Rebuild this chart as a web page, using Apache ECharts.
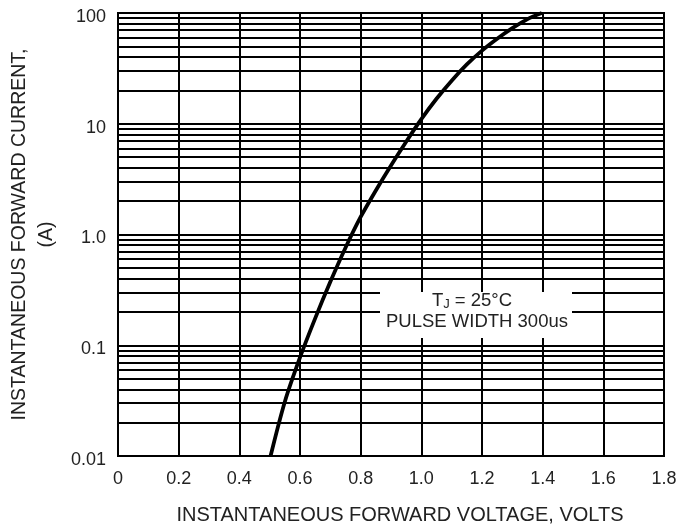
<!DOCTYPE html>
<html><head><meta charset="utf-8">
<script src="https://cdn.jsdelivr.net/npm/echarts@6/dist/echarts.min.js"></script>
<style>html,body{margin:0;padding:0;background:#fff}#c{width:693px;height:530px}</style>
</head><body><div id="c"></div>
<script>
var voltage = [0.503, 0.55, 0.60, 0.65, 0.70, 0.75, 0.80, 0.85, 0.90, 0.95, 1.00, 1.05, 1.10, 1.15, 1.20, 1.25, 1.30, 1.35, 1.397];
var current = [0.01, 0.0309, 0.0776, 0.175, 0.374, 0.76, 1.44, 2.5, 4.2, 6.88, 11.0, 16.8, 24.5, 34.3, 45.7, 58.5, 72.9, 88.1, 100];
var xTickLabels = ['0','0.2','0.4','0.6','0.8','1.0','1.2','1.4','1.6','1.8'];
var yTickValues = [0.01, 0.1, 1, 10, 100];
var yTickLabels = ['0.01','0.1','1.0','10','100'];
var noteLine1 = 'T{s|J} = 25°C';
var noteLine2 = 'PULSE WIDTH 300us';
var xTitle = 'INSTANTANEOUS FORWARD VOLTAGE, VOLTS';
var yTitle = 'INSTANTANEOUS FORWARD CURRENT,\n(A)';

var font = 'Liberation Sans, Arial, sans-serif';
var chart = echarts.init(document.getElementById('c'), null, {renderer:'canvas'});
chart.setOption({
  animation:false,
  backgroundColor:'#fff',
  grid:{left:118,right:29,top:13,bottom:74,containLabel:false,outerBoundsMode:'none',
    show:true,borderColor:'#000',borderWidth:2,z:3},
  xAxis:{type:'value',min:0,max:1.8,interval:0.2,
    axisLine:{show:false},axisTick:{show:false},
    splitLine:{show:true,lineStyle:{color:'#000',width:2}},
    axisLabel:{fontFamily:font,fontSize:18,color:'#222',margin:14,
      formatter:function(v){return xTickLabels[Math.round(v/0.2)];}},
    name:xTitle,nameLocation:'middle',nameGap:49,
    nameTextStyle:{fontFamily:font,fontSize:20,color:'#222',padding:[0,0,0,18]}},
  yAxis:{type:'log',logBase:10,min:0.01,max:100,
    axisLine:{show:false},axisTick:{show:false},
    splitLine:{show:true,lineStyle:{color:'#000',width:2}},
    minorTick:{show:false,splitNumber:9},
    minorSplitLine:{show:true,lineStyle:{color:'#000',width:1.8}},
    axisLabel:{fontFamily:font,fontSize:18,color:'#222',margin:12,
      formatter:function(v){for(var i=0;i<yTickValues.length;i++){if(Math.abs(Math.log10(v)-Math.log10(yTickValues[i]))<1e-6)return '{a|'+yTickLabels[i]+'}';}return '';},
      rich:{a:{fontFamily:font,fontSize:18,color:'#222',padding:[8,0,0,0]}}},
    name:yTitle,nameLocation:'middle',nameGap:52,nameRotate:90,
    nameTextStyle:{fontFamily:font,fontSize:19.5,color:'#222',lineHeight:27}},
  graphic:[
    {type:'rect',shape:{x:380,y:292,width:192,height:46},style:{fill:'#fff'},z:50},
    {type:'text',x:472,y:301,z:51,style:{text:noteLine1,font:'18.5px '+font,fill:'#222',align:'center',verticalAlign:'middle',
      rich:{s:{fontSize:13,fontFamily:font,fill:'#222',verticalAlign:'bottom'}}}},
    {type:'text',x:477,y:322,z:51,style:{text:noteLine2,font:'18.5px '+font,fill:'#222',align:'center',verticalAlign:'middle'}}
  ],
  series:[{type:'line',smooth:0.3,symbol:'none',z:60,
    lineStyle:{color:'#000',width:3.8},
    data:voltage.map(function(v,i){return [v,current[i]];})}]
});
</script></body></html>
